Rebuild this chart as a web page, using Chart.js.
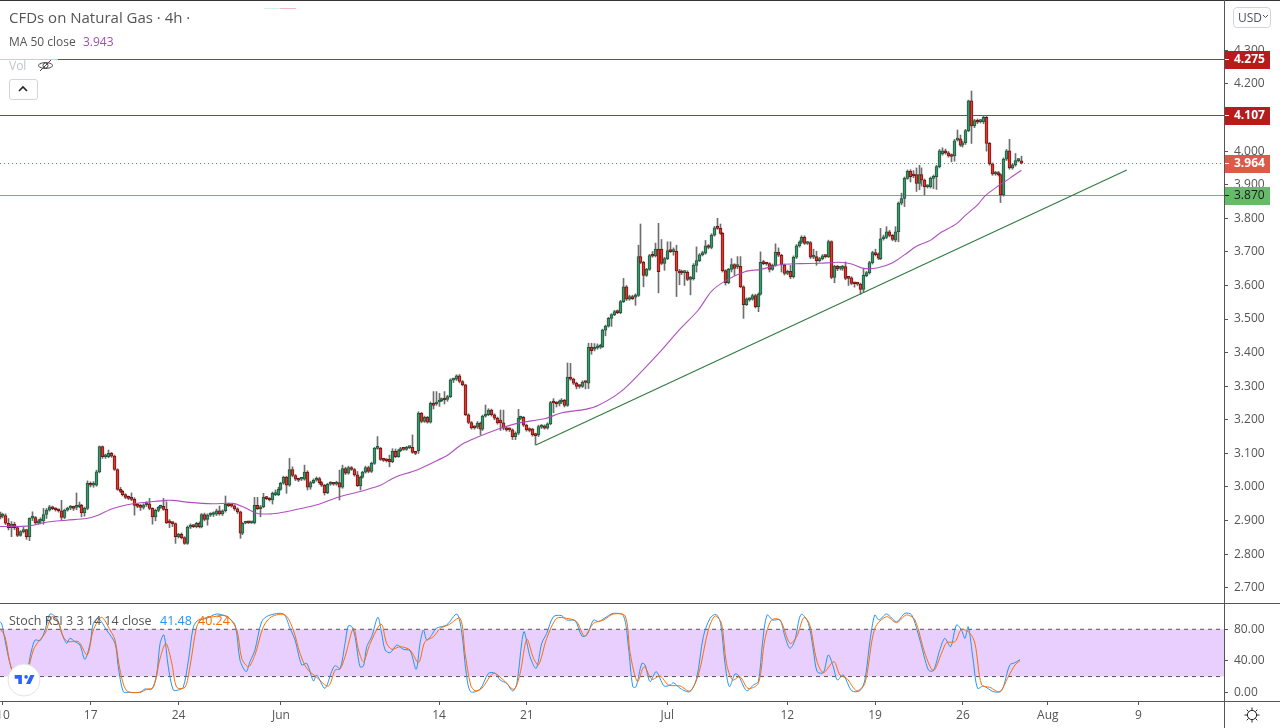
<!DOCTYPE html>
<html lang="en">
<head>
<meta charset="UTF-8">
<title>CFDs on Natural Gas</title>
<style>
    html, body { margin: 0; padding: 0; background: #fff; overflow: hidden; }
    body { width: 1280px; height: 728px; position: relative; font-family: 'Open Sans', sans-serif; color: #555; }
    canvas { position: absolute; left: 0; }
    #priceCanvas { top: 0; }
    #stochCanvas { top: 603px; }
    .abs { position: absolute; white-space: nowrap; }
    .rule { position: absolute; background: #555; }
</style>
</head>
<body>
<canvas id="priceCanvas" width="1280" height="603"></canvas>
<canvas id="stochCanvas" width="1280" height="125"></canvas>

<div class="rule" style="left:0;top:0;width:1280px;height:1px;background:#333"></div>
<div class="rule" style="left:0;top:603px;width:1280px;height:1px"></div>
<div class="rule" style="left:0;top:701px;width:1280px;height:1px"></div>
<div class="rule" style="left:1224px;top:0;width:1px;height:728px"></div>

<div class="abs" style="left:264px;top:8px;width:16px;height:1px;background:#d5efe9"></div>
<div class="abs" style="left:280px;top:8px;width:16px;height:1px;background:#f7b6c8"></div>

<div class="abs" style="left:9px;top:8px;font-size:15px;line-height:19px">CFDs on Natural Gas · 4h ·</div>
<div class="abs" style="left:9px;top:33px;font-size:12px;line-height:17px">MA 50 close <span style="color:#ab47bc;margin-left:4px">3.943</span></div>
<div class="abs" style="left:0;top:57px;width:58px;height:18px;background:rgba(255,255,255,.7)"></div>
<div class="abs" style="left:9px;top:57px;font-size:12px;line-height:17px;color:#c0c3cc">Vol</div>
<svg class="abs" style="left:37px;top:57px" width="17" height="17" viewBox="0 0 17 17" fill="none" stroke="#444" stroke-width="1">
    <path d="M1 8.5C4 4.5 13 4.5 16 8.5C13 12.5 4 12.5 1 8.5Z"/><circle cx="8.5" cy="8.5" r="2.5"/><path d="M3 14L14 3"/>
</svg>
<div class="abs" style="left:9px;top:79px;width:27px;height:19px;border:1px solid #d1d4dc;border-radius:3px"></div>
<svg class="abs" style="left:18px;top:85px" width="10" height="7" viewBox="0 0 10 7" fill="none" stroke="#222" stroke-width="1.6"><path d="M1 6L5 2L9 6"/></svg>

<div class="abs" style="left:1233px;top:7px;width:36px;height:19px;border:1px solid #d1d4dc;border-radius:4px;font-size:12px;line-height:19px;text-indent:4px;color:#50535e">USD</div>
<svg class="abs" style="left:1262px;top:14px" width="7" height="5" viewBox="0 0 7 5" fill="none" stroke="#50535e"><path d="M1 1L3.5 3.5L6 1"/></svg>

<div class="abs" style="left:9px;top:612px;font-size:12.5px;line-height:17px">Stoch RSI 3 3 14 14 close</div>
<div class="abs" style="left:160px;top:612px;font-size:12.5px;line-height:17px;color:#2196f3">41.48</div>
<div class="abs" style="left:198px;top:612px;font-size:12.5px;line-height:17px;color:#ff6d00">40.24</div>

<svg class="abs" style="left:7px;top:663px" width="34" height="34" viewBox="0 0 34 34">
    <circle cx="17" cy="17" r="16" fill="#fff" stroke="#e3e3e6"/>
    <path transform="translate(6.5 8.5) scale(.6)" fill="#2962ff" d="M14 6H2v6h6v9h6V6zm14 15h-7l7-15h7l-7 15zm-7-9a3 3 0 1 0 0-6 3 3 0 0 0 0 6z"/>
</svg>
<svg class="abs" style="left:1244px;top:707px" width="16" height="16" viewBox="0 0 16 16" fill="none" stroke="#222">
    <circle cx="8" cy="8" r="4.6"/><path d="M8 0.5V3M8 13V15.5M0.5 8H3M13 8H15.5M2.7 2.7L4.6 4.6M11.4 11.4L13.3 13.3M2.7 13.3L4.6 11.4M11.4 4.6L13.3 2.7"/>
</svg>

<script src="https://cdn.jsdelivr.net/npm/chart.js"></script>
<script>
// Velas de 4h
const opens = [
    2.918,2.913,2.915,2.892,2.879,2.889,2.879,2.856,2.867,2.873,
    2.852,2.907,2.909,2.893,2.898,2.899,2.918,2.931,2.941,2.935,
    2.932,2.929,2.909,2.931,2.937,2.940,2.939,2.941,2.945,2.923,
    2.936,3.011,3.005,3.005,3.045,3.120,3.090,3.090,3.100,3.092,
    3.052,2.993,2.987,2.977,2.969,2.966,2.963,2.945,2.942,2.939,
    2.947,2.950,2.936,2.911,2.930,2.939,2.942,2.933,2.895,2.893,
    2.891,2.852,2.859,2.849,2.832,2.880,2.884,2.882,2.892,2.882,
    2.918,2.903,2.916,2.918,2.919,2.929,2.920,2.929,2.948,2.944,
    2.944,2.935,2.926,2.862,2.892,2.895,2.893,2.893,2.945,2.935,
    2.941,2.969,2.965,2.961,2.977,2.977,2.993,3.011,3.029,3.005,
    3.052,3.034,3.023,3.023,3.023,3.044,2.999,3.013,3.020,3.025,
    3.013,3.005,2.983,3.008,3.009,3.008,3.013,2.999,3.055,3.041,
    3.058,3.052,3.036,3.004,3.029,3.044,3.058,3.046,3.070,3.115,
    3.115,3.082,3.080,3.082,3.075,3.106,3.090,3.108,3.115,3.112,
    3.117,3.118,3.103,3.108,3.219,3.195,3.207,3.193,3.249,3.247,
    3.253,3.257,3.261,3.261,3.269,3.318,3.321,3.331,3.314,3.304,
    3.215,3.192,3.178,3.178,3.190,3.172,3.211,3.215,3.229,3.215,
    3.205,3.199,3.191,3.175,3.173,3.170,3.150,3.160,3.204,3.207,
    3.184,3.172,3.172,3.158,3.155,3.178,3.182,3.175,3.188,3.253,
    3.251,3.249,3.253,3.258,3.243,3.327,3.321,3.309,3.301,3.299,
    3.312,3.309,3.416,3.410,3.414,3.416,3.418,3.467,3.479,3.502,
    3.513,3.522,3.519,3.552,3.596,3.559,3.567,3.565,3.570,3.686,
    3.669,3.630,3.648,3.690,3.688,3.708,3.708,3.666,3.680,3.704,
    3.701,3.702,3.643,3.640,3.638,3.639,3.618,3.620,3.660,3.674,
    3.691,3.696,3.718,3.713,3.750,3.772,3.770,3.755,3.644,3.608,
    3.648,3.662,3.656,3.657,3.596,3.543,3.557,3.559,3.570,3.537,
    3.574,3.669,3.665,3.665,3.648,3.660,3.699,3.690,3.661,3.636,
    3.642,3.626,3.684,3.718,3.729,3.743,3.725,3.728,3.684,3.686,
    3.674,3.680,3.688,3.686,3.731,3.624,3.657,3.651,3.651,3.656,
    3.623,3.623,3.606,3.606,3.604,3.588,3.629,3.638,3.668,3.698,
    3.694,3.680,3.739,3.743,3.760,3.749,3.735,3.760,3.845,3.859,
    3.919,3.940,3.930,3.930,3.904,3.930,3.914,3.894,3.894,3.919,
    3.924,3.954,3.992,4.001,3.995,3.988,3.986,4.033,4.037,4.018,
    4.025,4.061,4.150,4.075,4.091,4.088,4.088,4.101,4.023,3.962,
    3.932,3.936,3.930,3.870,3.976,4.001,3.950,3.959,3.972,3.971
];
const closes = [
    2.911,2.916,2.892,2.879,2.889,2.879,2.856,2.867,2.872,2.852,
    2.907,2.909,2.893,2.899,2.901,2.918,2.931,2.941,2.935,2.932,
    2.929,2.909,2.931,2.937,2.941,2.936,2.941,2.945,2.923,2.936,
    3.011,3.005,3.005,3.045,3.120,3.090,3.091,3.100,3.092,3.052,
    2.993,2.987,2.977,2.969,2.966,2.963,2.945,2.942,2.939,2.947,
    2.950,2.936,2.911,2.930,2.939,2.942,2.933,2.893,2.893,2.891,
    2.852,2.859,2.849,2.832,2.880,2.884,2.882,2.892,2.882,2.918,
    2.903,2.916,2.918,2.919,2.929,2.920,2.929,2.948,2.944,2.943,
    2.935,2.926,2.862,2.892,2.895,2.893,2.895,2.945,2.935,2.941,
    2.969,2.965,2.961,2.981,2.981,2.993,3.011,3.029,3.005,3.052,
    3.034,3.023,3.020,3.023,3.044,2.999,3.013,3.020,3.025,3.013,
    3.005,2.983,3.008,3.009,3.008,3.013,2.999,3.055,3.041,3.058,
    3.052,3.036,3.004,3.029,3.044,3.058,3.046,3.070,3.115,3.116,
    3.082,3.079,3.078,3.075,3.106,3.090,3.108,3.114,3.112,3.118,
    3.118,3.103,3.100,3.219,3.195,3.207,3.193,3.249,3.243,3.251,
    3.259,3.261,3.259,3.269,3.319,3.321,3.331,3.314,3.304,3.215,
    3.192,3.176,3.176,3.190,3.172,3.211,3.215,3.229,3.215,3.205,
    3.191,3.191,3.175,3.170,3.170,3.150,3.160,3.204,3.207,3.184,
    3.170,3.168,3.155,3.153,3.180,3.182,3.175,3.188,3.251,3.250,
    3.247,3.256,3.258,3.243,3.327,3.321,3.309,3.299,3.299,3.312,
    3.311,3.416,3.406,3.414,3.416,3.418,3.467,3.479,3.502,3.513,
    3.522,3.519,3.552,3.596,3.559,3.567,3.561,3.572,3.686,3.669,
    3.630,3.648,3.689,3.687,3.708,3.641,3.666,3.680,3.704,3.701,
    3.702,3.643,3.637,3.637,3.640,3.618,3.622,3.661,3.674,3.691,
    3.698,3.718,3.713,3.750,3.772,3.770,3.755,3.644,3.608,3.648,
    3.662,3.651,3.658,3.596,3.543,3.560,3.560,3.570,3.537,3.574,
    3.669,3.665,3.664,3.648,3.660,3.699,3.690,3.661,3.636,3.642,
    3.626,3.684,3.718,3.729,3.743,3.725,3.728,3.684,3.686,3.674,
    3.680,3.688,3.686,3.731,3.624,3.657,3.650,3.653,3.656,3.621,
    3.621,3.606,3.605,3.604,3.588,3.630,3.638,3.668,3.698,3.692,
    3.681,3.739,3.743,3.760,3.749,3.737,3.760,3.845,3.859,3.919,
    3.940,3.924,3.926,3.904,3.930,3.914,3.894,3.896,3.919,3.924,
    3.954,4.001,4.001,3.995,3.986,3.984,4.031,4.037,4.018,4.025,
    4.061,4.150,4.075,4.091,4.086,4.090,4.101,4.023,3.962,3.932,
    3.936,3.930,3.870,3.976,4.001,3.950,3.959,3.972,3.974,3.964
];
const highs = [
    2.925,2.922,2.920,2.906,2.897,2.895,2.882,2.870,2.880,2.874,
    2.908,2.926,2.912,2.903,2.908,2.936,2.936,2.945,2.943,2.938,
    2.934,2.960,2.934,2.940,2.945,2.943,2.982,2.955,2.948,2.940,
    3.018,3.015,3.016,3.050,3.122,3.122,3.098,3.110,3.103,3.095,
    3.054,2.999,2.990,2.980,2.973,2.982,2.968,2.950,2.948,2.950,
    2.956,2.966,2.938,2.934,2.942,2.946,2.966,2.956,2.903,2.896,
    2.893,2.862,2.863,2.852,2.884,2.890,2.887,2.895,2.896,2.921,
    2.922,2.920,2.923,2.926,2.934,2.943,2.932,2.973,2.952,2.948,
    2.947,2.938,2.928,2.894,2.898,2.898,2.897,2.969,2.969,2.945,
    2.981,2.972,2.968,2.985,2.991,2.999,3.014,3.032,3.032,3.085,
    3.060,3.037,3.026,3.027,3.065,3.048,3.017,3.024,3.030,3.029,
    3.017,3.008,3.011,3.016,3.012,3.017,3.050,3.065,3.059,3.062,
    3.061,3.055,3.046,3.032,3.047,3.062,3.062,3.074,3.118,3.150,
    3.118,3.085,3.084,3.095,3.114,3.113,3.112,3.118,3.118,3.121,
    3.122,3.155,3.106,3.224,3.222,3.211,3.210,3.253,3.284,3.284,
    3.279,3.265,3.284,3.273,3.322,3.324,3.334,3.335,3.317,3.306,
    3.218,3.195,3.182,3.195,3.193,3.214,3.244,3.233,3.232,3.218,
    3.208,3.229,3.229,3.178,3.176,3.173,3.164,3.231,3.211,3.210,
    3.187,3.176,3.175,3.160,3.184,3.186,3.185,3.191,3.255,3.263,
    3.254,3.259,3.263,3.261,3.369,3.368,3.324,3.312,3.304,3.316,
    3.315,3.428,3.428,3.427,3.426,3.425,3.470,3.482,3.505,3.516,
    3.526,3.527,3.556,3.621,3.600,3.571,3.571,3.575,3.720,3.783,
    3.672,3.651,3.693,3.701,3.726,3.785,3.737,3.684,3.730,3.730,
    3.712,3.720,3.648,3.646,3.644,3.644,3.627,3.665,3.715,3.695,
    3.702,3.734,3.722,3.754,3.776,3.800,3.783,3.758,3.647,3.651,
    3.680,3.665,3.686,3.686,3.599,3.563,3.564,3.574,3.574,3.578,
    3.700,3.675,3.669,3.668,3.664,3.724,3.712,3.693,3.664,3.646,
    3.660,3.688,3.722,3.733,3.748,3.748,3.731,3.731,3.708,3.702,
    3.684,3.692,3.692,3.735,3.733,3.660,3.660,3.657,3.660,3.670,
    3.627,3.626,3.609,3.609,3.607,3.650,3.642,3.672,3.702,3.708,
    3.697,3.770,3.750,3.775,3.764,3.752,3.775,3.849,3.875,3.923,
    3.944,3.945,3.942,3.950,3.958,3.950,3.917,3.900,3.923,3.929,
    3.958,4.005,4.010,4.006,3.999,3.992,4.035,4.063,4.048,4.030,
    4.065,4.152,4.179,4.095,4.096,4.094,4.105,4.106,4.026,3.965,
    3.940,3.940,3.933,3.980,4.005,4.035,3.963,3.993,3.978,3.985
];
const lows = [
    2.905,2.908,2.888,2.872,2.852,2.873,2.852,2.853,2.863,2.844,
    2.840,2.900,2.889,2.889,2.890,2.889,2.906,2.928,2.932,2.928,
    2.925,2.901,2.905,2.928,2.932,2.930,2.932,2.938,2.911,2.913,
    2.932,3.000,2.999,3.002,3.042,3.085,3.085,3.087,3.088,3.049,
    2.990,2.983,2.973,2.965,2.962,2.959,2.916,2.938,2.930,2.934,
    2.942,2.932,2.889,2.899,2.926,2.936,2.930,2.891,2.879,2.882,
    2.832,2.848,2.845,2.829,2.829,2.876,2.879,2.878,2.878,2.878,
    2.899,2.886,2.912,2.912,2.915,2.916,2.915,2.925,2.941,2.940,
    2.930,2.921,2.847,2.858,2.890,2.891,2.891,2.890,2.932,2.911,
    2.938,2.962,2.958,2.949,2.974,2.974,2.990,3.008,2.981,3.002,
    3.030,3.019,3.016,3.019,3.020,2.991,2.993,3.010,3.017,3.008,
    3.001,2.976,2.980,3.005,3.005,3.005,2.961,2.996,3.037,3.038,
    3.049,3.032,3.001,2.991,3.026,3.041,3.042,3.043,3.067,3.112,
    3.079,3.076,3.074,3.060,3.072,3.087,3.088,3.105,3.109,3.109,
    3.114,3.100,3.096,3.100,3.191,3.192,3.190,3.190,3.232,3.243,
    3.240,3.254,3.247,3.255,3.266,3.311,3.317,3.310,3.301,3.212,
    3.188,3.172,3.172,3.174,3.155,3.168,3.208,3.212,3.211,3.200,
    3.187,3.168,3.170,3.166,3.165,3.141,3.141,3.156,3.200,3.180,
    3.166,3.164,3.151,3.125,3.150,3.174,3.172,3.172,3.185,3.221,
    3.238,3.241,3.248,3.238,3.240,3.318,3.305,3.292,3.294,3.296,
    3.292,3.293,3.395,3.405,3.410,3.412,3.415,3.450,3.476,3.478,
    3.510,3.516,3.516,3.549,3.555,3.556,3.558,3.541,3.567,3.665,
    3.596,3.627,3.645,3.684,3.685,3.578,3.662,3.645,3.677,3.698,
    3.690,3.567,3.602,3.632,3.600,3.614,3.572,3.616,3.640,3.671,
    3.688,3.693,3.709,3.709,3.747,3.767,3.752,3.640,3.601,3.605,
    3.640,3.630,3.650,3.593,3.502,3.540,3.553,3.556,3.533,3.522,
    3.571,3.662,3.660,3.640,3.645,3.657,3.686,3.640,3.631,3.632,
    3.620,3.622,3.680,3.714,3.725,3.722,3.722,3.680,3.680,3.660,
    3.670,3.676,3.682,3.683,3.620,3.608,3.644,3.646,3.645,3.617,
    3.600,3.602,3.595,3.600,3.574,3.580,3.626,3.634,3.664,3.688,
    3.677,3.677,3.735,3.739,3.745,3.733,3.730,3.730,3.840,3.835,
    3.916,3.908,3.921,3.880,3.885,3.896,3.869,3.890,3.890,3.888,
    3.886,3.950,3.988,3.991,3.982,3.968,3.970,4.030,4.014,4.012,
    4.020,4.058,4.023,4.070,4.082,4.084,4.082,4.000,3.958,3.928,
    3.928,3.926,3.847,3.866,3.972,3.946,3.946,3.955,3.968,3.962
];

// Media movil de 50
const maBars = [0,10.2,15.3,22.7,29.5,33.5,38.6,45.5,51,56.8,59,64.8,72.7,79.5,83,88,93,97.7,102.3,108,116,122,126,130,135,142,148,153,158,163.7,170.5,177,186.4,192,200,204.5,212,219,225.5,232,238.6,243,247.7,254.5,260,266,273,280,286.6,291,295,300,305,309,313,318,321,327,330,334,336.5,341,345,349];
const maValues = [2.882,2.884,2.894,2.901,2.906,2.916,2.936,2.950,2.955,2.960,2.960,2.954,2.950,2.951,2.941,2.921,2.920,2.926,2.935,2.946,2.971,2.984,2.994,3.005,3.029,3.049,3.073,3.095,3.128,3.150,3.173,3.190,3.204,3.221,3.231,3.243,3.283,3.342,3.402,3.467,3.527,3.582,3.613,3.641,3.648,3.661,3.665,3.666,3.669,3.664,3.651,3.653,3.668,3.691,3.716,3.735,3.755,3.785,3.810,3.840,3.866,3.896,3.919,3.943];

// Stoch RSI
const kBars = [0,0.6,1.7,3.4,5.1,8.5,10.8,12,13.7,15.4,17.1,19.4,21.1,22.8,23.9,25.6,27.3,29,30.8,31.9,33.6,36.4,39.3,40.4,42.1,43.8,47.8,49.5,51.8,53.5,54.7,56,57.5,59.2,60.9,62.6,64.4,66.1,67.8,70.6,74,77.4,80.3,82,84.1,85.4,87.1,89.4,91.7,96.8,99.1,100.8,103.1,104.8,107.1,108.2,111,113.3,114.5,116.2,117.9,119,120.2,121.3,123,124.2,125.3,127,129.1,130.4,131.6,133.3,135.6,137.8,140.1,142.2,143.5,144.7,145.8,147.5,149,152.6,156.1,157.8,159.3,160.8,164,166.9,169.2,170.9,173.1,175.2,176.6,178.3,179.1,181.1,183.2,185.1,186.8,189.1,191.9,193.6,196.5,198.8,200.5,202.8,204.5,207.3,209.6,213,214.7,216.2,217.3,219.3,220.4,222.1,224.2,226.9,229,230.1,232.4,235.7,238,240.3,242.6,244.6,246.2,247.7,249.2,251.1,252.2,255.1,257.4,259.1,260.5,262.1,264,266.5,268.2,269.9,271.6,273.1,274,276.2,277.9,279.2,281.3,283,284.7,286.1,288.1,291,293.8,295.5,297.2,298.9,300.3,302.9,306.3,309.2,311.5,314.3,317.2,318.9,321.1,322.8,324.8,326.8,328.5,329.7,330.8,332.5,334,336,339.4,342.2,345,346.8,348.5];
const kValues = [89.7,86.7,66.4,36.8,21.9,19.8,53.7,66.4,65.6,79.1,99.4,93.9,74.9,62.2,68.5,64.3,60,41.9,62.2,87.6,93.9,79.1,62.2,32.5,0.8,0,0,4.2,3.8,21.9,62.2,72.8,32.5,2.9,2.9,6.3,41,83.3,91.8,93.9,99.4,96,85.5,41,26.2,38.9,53.7,89.7,97.3,99.4,81.2,66.4,34.7,36.8,14.3,21.9,5,26.2,33.8,30.4,62.2,84.2,83.3,70.6,32.5,33.4,57.9,70.6,95.2,74.9,53.7,50.3,60,54.6,52.9,29.2,62.2,79.1,66.4,72.8,81.2,85.5,99.4,74.9,24.1,0.8,3.8,24.1,24.1,15.6,11.4,1.6,11.4,64.3,77,45.2,30.4,62.2,74.9,96,97.3,91.8,91,71.5,72.8,91.8,89.7,96,100.3,97.3,57.9,7.1,7.1,36.8,34.7,13.5,26.2,8,9.3,12.2,5,0.8,17.7,70.6,93.9,99,87.6,36.8,7.1,23.2,21.9,2,9.3,13.5,62.2,98.2,91.8,91.8,70.6,55.8,66.4,93.9,99.4,87.6,53.7,26.2,24.9,47.4,32.5,15.6,22,2,2,15.6,64.3,98.2,91.8,99.4,89.7,100.3,98.2,66.4,28.3,27.5,53.7,68.5,57.9,85.5,79.1,68.5,83.3,41,5,8,0.8,2,34.7,37.6,41.48];
const dBars = [0,1.7,4,6.8,9.1,11.4,13.1,15.4,17.7,19.9,21.6,23.3,26.8,29.8,31.9,34.7,37.6,39.3,41,43.3,47.8,50.1,52.4,54.7,56.7,58.7,60.4,63.2,64.9,67.2,68.9,72.9,77.4,80.9,82.6,84.9,87.1,90,92.8,97.4,100.2,102.5,104.8,108.2,112.2,114.5,116.2,117.9,120.8,122.5,124.2,126.5,130.2,132.1,133.9,136.7,140.1,143,145.2,148.1,150.4,153.2,157.2,158.9,160.8,162.3,164.6,168.6,172,175.6,177.7,180,182.3,184,186.8,190.2,193.6,197,199.7,202.8,206.2,209.6,213.6,215.3,217.8,220.1,222.7,225.5,228.4,232.4,235.7,238.6,242,244.3,246.5,248.2,250.3,252.8,255.6,259.1,261.3,263.6,266.5,269.9,272.2,274.7,276.7,279,281.3,284.9,287,289.3,292.7,295.5,298.9,302.9,306.3,309.7,312.6,316,318.9,321.7,323.4,326.3,328.5,331.4,333.1,335.4,338.2,341.6,344.5,346.8,348.5];
const dValues = [81.2,70.6,28.3,15.6,24.1,53.7,64.3,74.9,96,89.7,70.6,64.3,64.3,47.4,79.1,95.2,79.1,66.4,28.3,2,0,3.8,6.3,43.1,62.2,36.8,6.3,6.3,32.5,83.3,92.6,96,96.9,79.1,43.1,32.5,47.4,83.3,96,98.2,79.1,49.5,30.4,19,8,28.3,29.6,45.2,81.2,53.7,38.9,62.2,86.7,62.2,54.6,57.9,53.7,37.6,64.3,70.6,81.2,85.5,93.9,49.5,9.3,2,5,24.1,15.6,3.8,24.1,67.2,43.1,34.7,68.5,93.9,93.9,89.7,71.5,87.6,91.8,99.4,96.9,49.5,13.5,32.5,16.5,20.7,9.3,8,1.6,21.9,79.1,96.9,87.6,36.8,15.6,19.8,5,11.4,66.4,91.8,91.8,62.2,70.6,95.2,85.5,41,24.9,38.9,21.9,17.7,2,11.4,81.2,96,88.4,98.2,91.8,49.5,27.5,49.5,63,64.3,79.9,74.9,62.2,9.3,6.3,0.8,19.8,34.7,40.24];

// Ejes
const xTickBars = [1,31,61,96,150,180,228,269,299,329,358,389];
const xTickLabels = ['10','17','24','Jun','14','21','Jul','12','19','26','Aug','9'];
const priceTicks = [2.7,2.8,2.9,3.0,3.1,3.2,3.3,3.4,3.5,3.6,3.7,3.8,3.9,4.0,4.2,4.3];
const stochTicks = [0,40,80];

// Lineas horizontales, tendencia y etiquetas
const levelPrices = [4.275,4.107,3.964,3.870];
const levelColors = ['#c62828','#c62828','#d9534f','#66bb6a'];
const levelDashes = [[],[],[1,3],[]];
const trendBars = [183.1,385];
const trendPrices = [3.125,3.944];
const tagFills = ['#b71c1c','#b71c1c','#dd5a48','#66bb6a'];
const tagTexts = ['#fff','#fff','#fff','#1a1a1a'];
const stochBandTop = 80;
const stochBandBottom = 20;

const xMax = 418.2;
const fontName = "'Open Sans', sans-serif";
const axisGray = '#555';

function pairs(xs, ys) {
    return xs.map((x, i) => ({ x: x, y: ys[i] }));
}
function hline(value) {
    return [{ x: 0, y: value }, { x: xMax, y: value }];
}
// Chart.js reserva margen para la primera y ultima etiqueta; aqui no lo queremos
function noPadding(axis) {
    axis.paddingLeft = axis.paddingRight = axis.paddingTop = axis.paddingBottom = 0;
}

function rightAxis(min, max, ticks, digits) {
    return {
        type: 'linear',
        position: 'right',
        min: min,
        max: max,
        afterBuildTicks: axis => { axis.ticks = ticks.map(v => ({ value: v })); },
        afterFit: axis => { axis.width = 56; noPadding(axis); },
        border: { display: false },
        grid: { drawOnChartArea: false, drawTicks: true, tickLength: 4, color: axisGray },
        ticks: {
            padding: 6,
            color: axisGray,
            font: { family: fontName, size: 12 },
            callback: v => Number(v).toFixed(digits)
        }
    };
}

// Ajusta las velas a pixel entero para que queden nitidas
const crispBarsPlugin = {
    id: 'crispBars',
    afterDatasetsUpdate(chart) {
        chart.data.datasets.forEach((ds, i) => {
            const meta = chart.getDatasetMeta(i);
            if (meta.type === 'bar') {
                meta.data.forEach(bar => { bar.x = Math.floor(bar.x) + 0.5; });
            }
        });
    }
};

// Niveles horizontales de 1px detras de las velas, con su posicion del eje y
const priceLevelsPlugin = {
    id: 'priceLevels',
    beforeDatasetsDraw(chart) {
        const c = chart.ctx;
        const y = chart.scales.y;
        levelPrices.forEach((p, i) => {
            const py = Math.round(y.getPixelForValue(p)) + 0.5;
            c.save();
            c.strokeStyle = levelColors[i];
            c.lineWidth = 1;
            c.setLineDash(levelDashes[i]);
            c.beginPath();
            c.moveTo(chart.chartArea.left, py);
            c.lineTo(chart.chartArea.right, py);
            c.stroke();
            c.restore();
        });
    },
    // Etiquetas de precio encima del eje
    afterDraw(chart) {
        const c = chart.ctx;
        const y = chart.scales.y;
        levelPrices.forEach((p, i) => {
            const py = Math.round(y.getPixelForValue(p));
            c.fillStyle = tagFills[i];
            c.fillRect(1224, py - 8, 46, 18);
            c.fillStyle = tagTexts[i];
            c.fillRect(1225, py, 4, 1);
            c.font = (tagTexts[i] === '#fff' ? 'bold ' : '') + '12px ' + fontName;
            c.textAlign = 'left';
            c.textBaseline = 'middle';
            c.fillText(p.toFixed(3), 1234, py + 1);
        });
    }
};

const isUp = closes.map((c, i) => c >= opens[i]);

new Chart(document.getElementById('priceCanvas').getContext('2d'), {
    type: 'bar',
    plugins: [crispBarsPlugin, priceLevelsPlugin],
    data: {
        datasets: [
            {
                type: 'line', order: 1, data: pairs(maBars, maValues),
                borderColor: 'rgba(171,71,188,.95)', borderWidth: 1.1, pointRadius: 0, tension: 0.3
            },
            {
                type: 'line', order: 2, data: pairs(trendBars, trendPrices),
                borderColor: '#2f7a3f', borderWidth: 1.1, pointRadius: 0
            },
            {
                order: 3,
                data: opens.map((o, i) => ({ x: i, y: [Math.min(o, closes[i]), Math.max(o, closes[i])] })),
                backgroundColor: isUp.map(u => u ? '#3f9470' : '#e0392b'),
                borderColor: isUp.map(u => u ? '#1d5c3c' : '#7a1212'),
                borderWidth: 1, borderSkipped: false, barThickness: 3, minBarLength: 2, grouped: false
            },
            {
                order: 4,
                data: lows.map((l, i) => ({ x: i, y: [l, highs[i]] })),
                backgroundColor: '#6e6e6e', barThickness: 1, grouped: false
            }
        ]
    },
    options: {
        responsive: false,
        animation: false,
        devicePixelRatio: 1,
        layout: { autoPadding: false, padding: 0 },
        plugins: { legend: { display: false }, tooltip: { enabled: false } },
        scales: {
            x: { type: 'linear', display: false, min: 0, max: xMax, offset: false },
            y: rightAxis(2.6544, 4.4501, priceTicks, 3)
        }
    }
});

new Chart(document.getElementById('stochCanvas').getContext('2d'), {
    type: 'line',
    data: {
        datasets: [
            {
                order: 1, data: pairs(dBars, dValues),
                borderColor: '#ff6d00', borderWidth: 1, pointRadius: 0, tension: 0.3
            },
            {
                order: 2, data: pairs(kBars, kValues),
                borderColor: '#2196f3', borderWidth: 1, pointRadius: 0, tension: 0.3
            },
            {
                order: 3, data: hline(stochBandTop),
                borderColor: axisGray, borderWidth: 1, borderDash: [4, 4], pointRadius: 0
            },
            {
                order: 3, data: hline(stochBandBottom),
                borderColor: axisGray, borderWidth: 1, borderDash: [4, 4], pointRadius: 0
            },
            {
                order: 4, data: hline(stochBandTop),
                borderWidth: 0, pointRadius: 0,
                fill: { value: stochBandBottom }, backgroundColor: '#e8cffd'
            }
        ]
    },
    options: {
        responsive: false,
        animation: false,
        devicePixelRatio: 1,
        layout: { autoPadding: false, padding: 0 },
        plugins: { legend: { display: false }, tooltip: { enabled: false } },
        scales: {
            x: {
                type: 'linear',
                min: 0,
                max: xMax,
                afterBuildTicks: axis => { axis.ticks = xTickBars.map(v => ({ value: v })); },
                afterFit: axis => { axis.height = 27; noPadding(axis); },
                border: { display: false },
                grid: { drawOnChartArea: false, drawTicks: true, tickLength: 4, color: axisGray },
                ticks: {
                    autoSkip: false,
                    maxRotation: 0,
                    padding: 3,
                    color: axisGray,
                    font: { family: fontName, size: 12 },
                    callback: v => xTickLabels[xTickBars.indexOf(v)]
                }
            },
            y: rightAxis(-11.05, 113.4, stochTicks, 2)
        }
    }
});
</script>
</body>
</html>
